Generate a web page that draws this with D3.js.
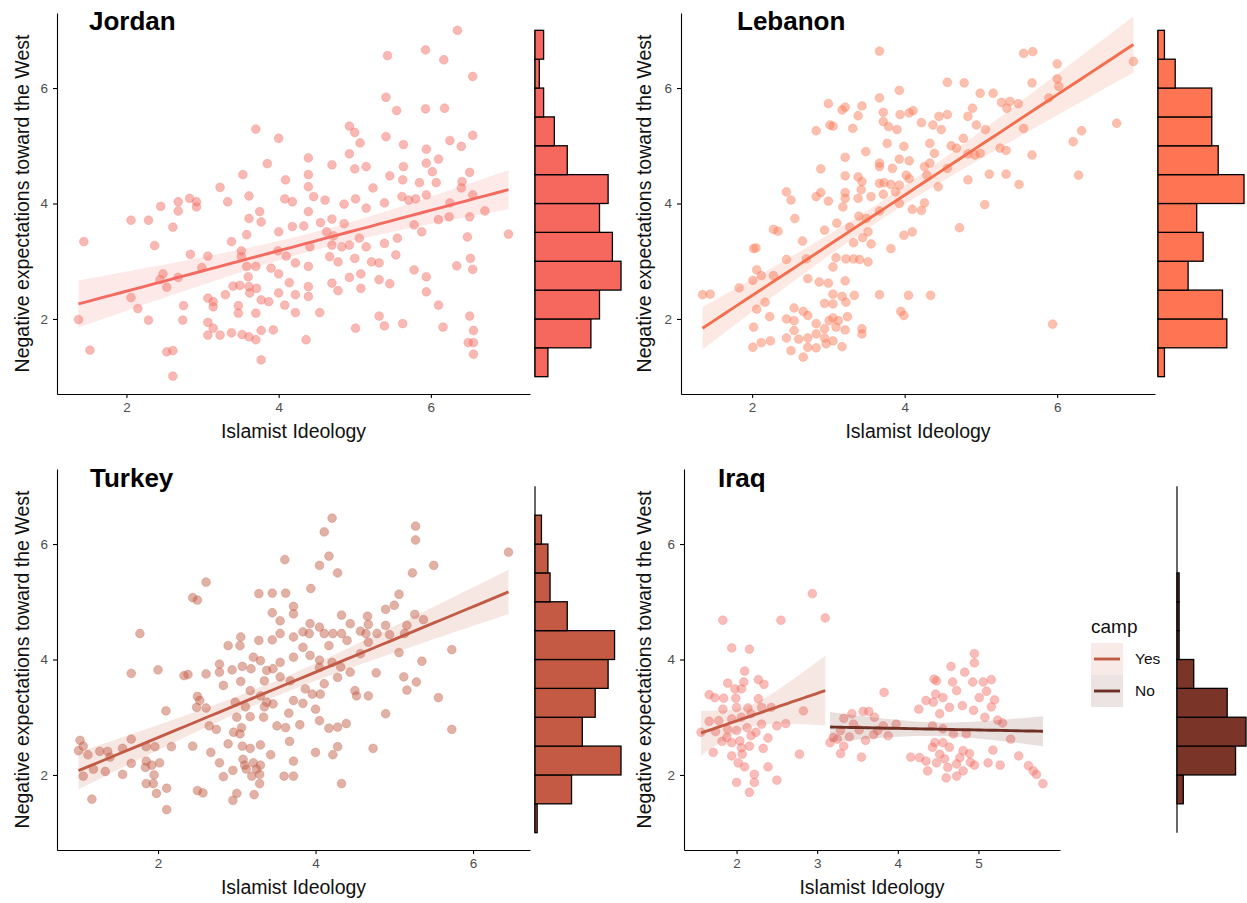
<!DOCTYPE html>
<html>
<head>
<meta charset="utf-8">
<script src="https://cdn.jsdelivr.net/npm/d3@7"></script>
<style>
  body { margin: 0; background: #fff; }
  svg { font-family: "Liberation Sans", Arial, sans-serif; }
  .axis path, .axis line { stroke: #000; stroke-width: 1.1; }
</style>
</head>
<body>
<script>
(function(){

//data: [Islamist Ideology, Negative expectations]
var jordanPts = [[3.70,5.29],[4.00,5.13],[3.85,4.69],[3.53,4.50],[4.09,4.41],[3.23,4.28],[3.61,4.13],[3.33,4.03],[4.08,4.08],[4.18,4.03],[2.68,4.03],[2.83,4.09],[2.92,4.03],[2.45,3.95],[2.68,3.87],[2.92,3.94],[3.75,3.86],[2.06,3.71],[2.29,3.71],[3.61,3.74],[3.77,3.68],[2.61,3.59],[4.18,3.60],[4.00,3.51],[3.58,3.46],[1.44,3.34],[2.37,3.27],[3.38,3.34],[3.51,3.18],[2.84,3.12],[3.07,3.09],[3.51,3.08],[3.99,3.18],[4.10,3.09],[4.22,2.97],[2.99,2.89],[3.58,2.91],[3.70,2.91],[3.90,2.88],[4.00,2.78],[2.48,2.78],[2.68,2.72],[2.44,2.68],[2.53,2.55],[3.60,2.73],[3.61,2.56],[3.71,2.53],[3.40,2.57],[3.49,2.58],[3.30,2.42],[3.62,2.45],[3.77,2.33],[3.87,2.30],[4.00,2.45],[4.14,2.63],[4.22,2.42],[4.08,2.24],[4.22,2.11],[2.06,2.37],[2.15,2.18],[3.07,2.36],[3.14,2.30],[3.14,2.21],[2.75,2.23],[3.47,2.23],[3.47,2.10],[3.70,2.10],[1.37,1.99],[2.29,1.98],[2.74,1.98],[3.07,1.94],[3.14,1.84],[3.07,1.72],[3.23,1.72],[3.38,1.76],[3.52,1.73],[3.61,1.69],[3.70,1.64],[3.77,1.80],[3.93,1.81],[1.52,1.46],[2.53,1.43],[2.61,1.45],[3.77,1.29],[2.61,1.01],
  [6.35,7.00],[5.43,6.56],[5.93,6.66],[6.17,6.49],[6.55,6.20],[5.41,5.84],[5.55,5.61],[5.93,5.64],[6.18,5.65],[4.93,5.34],[5.00,5.23],[5.07,5.05],[5.41,5.16],[5.64,5.02],[5.94,4.94],[6.25,5.09],[6.40,4.99],[6.55,5.18],[4.93,4.86],[4.39,4.79],[4.70,4.67],[5.00,4.60],[5.15,4.64],[5.64,4.64],[5.94,4.70],[6.10,4.77],[6.02,4.55],[4.39,4.50],[5.46,4.48],[5.63,4.41],[5.85,4.36],[6.07,4.36],[6.41,4.38],[6.51,4.54],[4.39,4.29],[4.46,4.12],[4.61,4.06],[5.24,4.27],[5.62,4.12],[5.71,4.06],[5.80,4.08],[5.94,4.15],[6.40,4.27],[6.55,4.15],[5.01,4.08],[4.86,3.99],[5.15,3.92],[5.39,4.01],[6.25,4.01],[6.71,3.87],[4.39,3.86],[4.33,3.61],[4.55,3.67],[4.70,3.73],[4.86,3.65],[4.63,3.51],[4.72,3.44],[5.06,3.40],[5.78,3.63],[5.88,3.51],[6.10,3.72],[6.24,3.77],[6.51,3.77],[7.02,3.47],[4.41,3.25],[4.70,3.28],[4.83,3.25],[4.93,3.28],[5.15,3.25],[5.39,3.31],[5.56,3.40],[5.54,3.11],[6.48,3.42],[4.67,3.08],[4.78,2.99],[5.00,3.05],[5.22,2.99],[5.32,2.97],[4.39,2.91],[6.52,3.05],[6.55,2.86],[6.34,2.92],[5.78,2.85],[5.94,2.73],[4.70,2.62],[4.78,2.49],[4.93,2.72],[5.08,2.78],[5.32,2.68],[5.46,2.61],[5.08,2.53],[5.94,2.47],[4.39,2.39],[4.39,2.56],[6.10,2.24],[4.54,2.11],[5.32,2.05],[6.51,2.05],[5.01,1.84],[5.39,1.88],[5.63,1.92],[6.16,1.86],[6.56,1.80],[6.49,1.59],[6.56,1.59],[6.56,1.39],[4.36,1.64]];

var lebanonPts = [[3.67,6.64],[3.93,5.96],[3.67,5.83],[3.00,5.73],[3.18,5.62],[3.22,5.67],[3.44,5.69],[3.39,5.52],[3.72,5.58],[3.94,5.54],[4.06,5.57],[4.11,5.61],[2.84,5.26],[3.02,5.36],[3.06,5.34],[3.32,5.30],[3.72,5.42],[3.79,5.33],[3.90,5.28],[3.77,5.04],[3.99,4.99],[3.49,4.90],[3.22,4.80],[3.67,4.70],[3.67,4.64],[3.93,4.77],[4.06,4.74],[2.90,4.60],[3.22,4.48],[3.39,4.46],[3.44,4.38],[3.84,4.61],[4.02,4.49],[4.06,4.43],[3.67,4.35],[3.73,4.36],[3.82,4.33],[3.93,4.32],[2.45,4.20],[2.51,4.06],[2.84,4.12],[2.90,4.19],[3.00,4.04],[3.22,4.19],[3.22,4.09],[3.19,3.94],[3.39,4.09],[3.43,4.24],[3.56,4.12],[3.72,4.16],[3.88,4.20],[3.93,4.00],[4.10,3.90],[2.56,3.74],[2.28,3.55],[2.34,3.52],[2.95,3.54],[3.11,3.66],[3.40,3.78],[3.50,3.74],[3.28,3.59],[3.52,3.51],[3.67,3.87],[2.66,3.35],[3.33,3.32],[3.45,3.41],[3.56,3.30],[3.82,3.22],[3.99,3.45],[4.10,3.51],[2.02,3.22],[2.05,3.23],[2.45,3.03],[2.71,3.04],[3.10,3.06],[3.23,3.04],[3.33,3.04],[3.41,3.03],[3.52,2.99],[3.06,2.90],[2.06,2.85],[2.12,2.75],[2.01,2.67],[2.28,2.75],[2.73,2.70],[2.88,2.64],[3.00,2.62],[3.22,2.66],[1.83,2.54],[1.35,2.42],[1.45,2.43],[3.06,2.43],[3.18,2.39],[3.34,2.41],[3.67,2.42],[4.05,2.41],[2.95,2.27],[3.06,2.26],[3.23,2.29],[2.17,2.29],[2.06,2.17],[2.23,2.04],[2.45,2.00],[2.55,2.19],[2.55,1.97],[2.67,2.13],[2.73,2.06],[2.84,1.92],[3.01,1.97],[3.06,2.02],[3.13,1.97],[3.25,2.04],[3.10,1.86],[3.22,1.81],[2.95,1.83],[3.95,2.13],[3.99,2.06],[3.44,1.83],[3.44,1.74],[2.02,1.86],[2.55,1.80],[2.73,1.67],[2.84,1.74],[2.95,1.67],[3.06,1.62],[2.01,1.51],[2.12,1.59],[2.24,1.62],[2.45,1.67],[2.61,1.65],[2.51,1.45],[2.67,1.34],[2.73,1.51],[2.84,1.50],[3.18,1.52],[2.97,1.57],
  [5.56,6.60],[5.68,6.63],[6.00,6.42],[7.00,6.46],[4.56,6.10],[4.78,6.09],[5.67,6.09],[6.00,6.16],[6.02,6.03],[4.99,5.91],[5.16,5.91],[5.27,5.75],[5.38,5.77],[5.34,5.65],[5.49,5.73],[5.89,5.83],[4.89,5.65],[4.56,5.54],[4.45,5.51],[4.37,5.36],[4.83,5.51],[4.94,5.36],[5.06,5.28],[5.56,5.30],[6.78,5.39],[6.32,5.26],[6.21,5.07],[4.48,5.28],[4.22,5.40],[4.33,5.04],[4.39,4.87],[4.77,5.13],[4.61,5.00],[4.68,4.96],[5.25,4.96],[5.33,4.92],[5.67,4.84],[4.83,4.86],[4.92,4.84],[4.99,4.87],[4.33,4.70],[4.26,4.64],[4.56,4.61],[4.83,4.41],[5.11,4.51],[5.33,4.51],[5.50,4.33],[6.28,4.49],[4.44,4.29],[4.29,4.49],[4.26,4.01],[5.05,3.98],[4.22,3.88],[4.72,3.58],[4.34,2.41],[5.94,1.91]];

var turkeyPts = [[3.61,5.73],[2.61,5.34],[2.44,5.07],[2.50,5.03],[3.28,5.14],[3.45,5.15],[3.62,5.15],[3.72,4.92],[3.45,4.81],[3.55,4.67],[3.72,4.79],[1.77,4.45],[3.55,4.45],[3.05,4.39],[3.28,4.33],[3.45,4.34],[3.72,4.39],[2.89,4.24],[3.04,4.24],[3.21,4.04],[3.30,3.98],[3.55,3.95],[3.72,4.04],[2.78,3.92],[2.94,3.82],[3.07,3.88],[3.18,3.84],[3.38,3.81],[3.46,3.84],[1.66,3.76],[2.00,3.82],[2.33,3.72],[2.38,3.74],[2.61,3.75],[2.78,3.78],[2.83,3.55],[3.05,3.62],[3.35,3.63],[3.55,3.70],[3.68,3.63],[3.17,3.46],[3.30,3.37],[3.38,3.26],[3.46,3.23],[2.50,3.36],[2.53,3.29],[2.49,3.17],[2.61,3.16],[2.98,3.26],[3.11,3.18],[3.35,3.18],[2.10,3.11],[3.72,3.29],[3.00,3.00],[3.17,3.01],[3.34,3.00],[3.66,3.07],[2.65,2.85],[2.74,2.79],[3.06,2.82],[3.51,2.85],[3.62,2.82],[3.04,2.71],[2.96,2.74],[3.67,2.58],[1.66,2.62],[1.01,2.60],[1.05,2.50],[0.99,2.42],[1.11,2.35],[1.26,2.41],[1.36,2.41],[1.39,2.31],[1.55,2.46],[1.85,2.49],[1.96,2.49],[2.17,2.49],[2.44,2.50],[2.89,2.54],[3.07,2.50],[3.17,2.46],[3.30,2.52],[3.43,2.35],[2.67,2.39],[2.78,2.21],[1.66,2.20],[1.85,2.24],[1.92,2.17],[2.02,2.21],[1.84,2.13],[1.33,2.06],[1.18,2.10],[1.05,1.98],[1.55,2.01],[1.95,2.00],[2.95,2.08],[3.08,2.27],[3.10,2.17],[3.21,2.21],[3.30,2.17],[3.12,2.10],[3.25,2.10],[3.19,1.98],[3.29,2.01],[2.83,1.97],[3.60,1.98],[3.72,1.98],[3.72,2.24],[1.85,1.85],[1.94,1.85],[3.29,1.85],[2.11,1.77],[1.98,1.68],[2.50,1.73],[2.57,1.69],[3.00,1.68],[2.95,1.56],[3.22,1.66],[1.16,1.58],[2.11,1.40],
  [4.21,6.45],[4.11,6.21],[5.27,6.31],[5.27,6.07],[6.45,5.86],[4.17,5.79],[4.05,5.63],[4.28,5.50],[5.23,5.50],[5.50,5.63],[3.94,5.23],[5.06,5.13],[5.00,4.94],[4.89,4.87],[4.33,4.77],[4.44,4.62],[4.66,4.75],[4.67,4.61],[5.26,4.78],[5.37,4.69],[5.16,4.59],[4.89,4.59],[3.93,4.62],[4.05,4.56],[3.84,4.48],[3.92,4.45],[4.11,4.45],[4.22,4.45],[4.33,4.45],[4.57,4.49],[4.64,4.45],[4.78,4.45],[4.94,4.43],[5.13,4.45],[4.40,4.33],[4.67,4.30],[3.84,4.21],[4.17,4.24],[5.73,4.17],[5.06,4.12],[4.57,4.10],[3.93,4.07],[4.05,3.99],[4.21,3.95],[5.35,3.97],[4.05,3.86],[4.32,3.87],[4.44,3.78],[4.28,3.69],[4.77,3.77],[5.12,3.70],[5.28,3.61],[5.16,3.47],[4.11,3.58],[3.87,3.49],[3.96,3.40],[4.06,3.40],[4.50,3.46],[4.52,3.37],[4.67,3.37],[5.56,3.34],[3.84,3.24],[4.00,3.14],[4.89,3.06],[3.80,2.87],[4.05,2.94],[4.17,2.81],[4.28,2.83],[4.39,2.89],[5.73,2.79],[4.00,2.39],[4.22,2.35],[4.28,2.49],[4.73,2.46],[4.33,1.85]];

var iraqYesPts = [[2.94,5.14],[1.83,4.68],[2.55,4.68],[3.10,4.72],[1.94,4.20],[2.16,4.18],[2.10,3.80],[2.27,3.65],[1.89,3.59],[2.09,3.61],[2.34,3.57],[1.98,3.49],[2.06,3.49],[1.66,3.39],[1.73,3.34],[1.84,3.33],[1.99,3.33],[2.27,3.32],[2.00,3.17],[1.83,3.14],[2.14,3.16],[2.31,3.17],[2.43,3.17],[2.83,3.11],[1.66,2.93],[1.78,2.94],[1.94,2.97],[2.06,3.00],[2.18,3.06],[2.31,2.88],[2.50,2.85],[2.61,2.89],[1.56,2.74],[1.74,2.75],[1.89,2.79],[2.00,2.77],[2.13,2.82],[2.24,2.74],[1.82,2.58],[1.94,2.56],[2.04,2.59],[2.16,2.50],[2.39,2.64],[1.71,2.39],[1.94,2.33],[2.07,2.36],[2.33,2.46],[2.78,2.36],[2.02,2.21],[2.10,2.14],[2.39,2.14],[2.22,2.01],[2.00,1.87],[2.22,1.87],[2.50,1.91],[2.16,1.70],[2.06,2.47],[1.88,2.65],[2.18,2.68]];

var iraqNoPts = [[3.83,3.43],[3.33,2.98],[3.43,3.06],[3.45,2.88],[3.57,3.10],[3.64,3.10],[3.71,3.00],[3.82,2.85],[3.88,2.68],[3.98,2.88],[3.20,2.65],[3.29,2.77],[3.16,2.56],[3.29,2.37],[3.33,2.50],[3.55,2.31],[3.75,2.77],[3.40,2.66],[3.60,2.60],[3.52,2.78],[3.70,2.70],[3.25,2.62],[4.26,3.14],[4.35,3.29],[4.16,2.31],[4.27,2.30],[4.37,2.07],[4.35,2.24],[4.45,3.66],[4.47,3.40],[4.43,2.85],[4.43,2.48],
  [4.95,4.10],[4.95,3.94],[4.66,3.88],[4.48,3.63],[4.83,3.78],[4.68,3.61],[4.93,3.61],[5.06,3.61],[5.16,3.65],[4.73,3.46],[5.01,3.34],[5.16,3.18],[4.56,3.34],[4.80,3.20],[4.94,3.12],[5.08,3.00],[5.24,2.95],[4.44,3.26],[4.64,3.17],[4.52,3.06],[4.69,2.71],[4.56,2.56],[4.52,2.36],[4.64,2.48],[4.81,2.42],[4.89,2.37],[5.18,2.43],[4.48,2.21],[4.62,2.13],[4.73,2.19],[4.81,2.07],[4.95,2.17],[5.12,2.21],[5.27,2.17],[5.50,2.33],[5.62,2.16],[5.68,2.07],[5.72,2.01],[5.80,1.85],[4.60,1.95],[4.73,1.98],[4.56,2.80],[4.46,2.56],[4.85,2.71],[5.20,3.30],[5.30,2.90],[5.40,2.62],[5.10,3.45],[4.58,2.28],[4.77,2.30],[4.90,2.22]];

//marginal histogram counts, one per half-unit bin of the y variable
var histBreaks = [1, 1.5, 2, 2.5, 3, 3.5, 4, 4.5, 5, 5.5, 6, 6.5, 7];
var jordanCounts = [6, 26, 30, 40, 36, 30, 34, 15, 9, 4, 2, 4];
var lebanonCounts = [3, 32, 30, 14, 21, 18, 40, 28, 25, 25, 8, 3];
var turkeyCounts = [1, 17, 40, 22, 28, 34, 37, 15, 7, 6, 3, 0];
var iraqCounts = [0, 3, 28, 33, 24, 8, 1, 1, 1, 0, 0, 0];

//axis ticks and labels
var yTicks = [2, 4, 6];
var yLimits = [1, 7];
var xTicksWide = [2, 4, 6];
var xTicksIraq = [2, 3, 4, 5];
var campLabels = ["Yes", "No"];
var xTitle = "Islamist Ideology";
var yTitle = "Negative expectations toward the West";

//panel layout
var panels = [
    {title: "Jordan", titleX: 89, titleY: 30, left: 57, right: 530, top: 13, bottom: 394, yTitleX: 22,
     histLeft: 535, histW: 86, counts: jordanCounts, barColor: "#F6685E",
     xTicks: xTicksWide, groups: [{pts: jordanPts, point: "#F26A60", line: "#F26A60"}]},
    {title: "Lebanon", titleX: 737, titleY: 30, left: 681, right: 1155, top: 13, bottom: 394, yTitleX: 644,
     histLeft: 1158, histW: 86, counts: lebanonCounts, barColor: "#FF7553",
     xTicks: xTicksWide, groups: [{pts: lebanonPts, point: "#FA7B57", line: "#F36E4D"}]},
    {title: "Turkey", titleX: 90, titleY: 487, left: 57, right: 530, top: 469, bottom: 850, yTitleX: 22,
     histLeft: 535, histW: 86, counts: turkeyCounts, barColor: "#C45A44",
     xTicks: xTicksWide, groups: [{pts: turkeyPts, point: "#C25B45", line: "#C25B45"}]},
    {title: "Iraq", titleX: 718, titleY: 487, left: 684, right: 1060, top: 469, bottom: 850, yTitleX: 644,
     histLeft: 1177, histW: 69, counts: iraqCounts, barColor: "#7A3428",
     xTicks: xTicksIraq, groups: [{pts: iraqYesPts, point: "#F2736B", line: "#C25B45"},
                                  {pts: iraqNoPts, point: "#F2736B", line: "#6E3024"}]}
];

var svg = d3.select("body").append("svg")
    .attr("width", 1247)
    .attr("height", 903);

svg.append("rect").attr("width", 1247).attr("height", 903).attr("fill", "#fff");

panels.forEach(function(p){ drawPanel(p); });
drawLegend();

//least squares fit with 95% confidence band
function fitLine(pts){
    var n = pts.length;
    var xbar = d3.mean(pts, function(d){ return d[0]; });
    var ybar = d3.mean(pts, function(d){ return d[1]; });
    var sxx = d3.sum(pts, function(d){ return (d[0] - xbar) * (d[0] - xbar); });
    var sxy = d3.sum(pts, function(d){ return (d[0] - xbar) * (d[1] - ybar); });
    var b = sxy / sxx, a = ybar - b * xbar;
    var sse = d3.sum(pts, function(d){ var r = d[1] - (a + b * d[0]); return r * r; });
    var s = Math.sqrt(sse / (n - 2));
    var ext = d3.extent(pts, function(d){ return d[0]; });
    var xs = d3.range(0, 41).map(function(i){ return ext[0] + (ext[1] - ext[0]) * i / 40; });
    return xs.map(function(xv){
        var fit = a + b * xv;
        var se = s * Math.sqrt(1 / n + (xv - xbar) * (xv - xbar) / sxx);
        return {x: xv, y: fit, lo: fit - 1.97 * se, hi: fit + 1.97 * se};
    });
}

function drawPanel(p){
    var all = [];
    p.groups.forEach(function(g){ all = all.concat(g.pts); });

    //ggplot style 5% expansion
    var xExt = d3.extent(all, function(d){ return d[0]; });
    var xPad = (xExt[1] - xExt[0]) * 0.05;
    var yPad = (yLimits[1] - yLimits[0]) * 0.05;

    var x = d3.scaleLinear().domain([xExt[0] - xPad, xExt[1] + xPad]).range([p.left, p.right]);
    var y = d3.scaleLinear().domain([yLimits[0] - yPad, yLimits[1] + yPad]).range([p.bottom, p.top]);

    var g = svg.append("g");

    //points
    p.groups.forEach(function(grp){
        g.append("g").selectAll("circle")
            .data(grp.pts)
            .enter()
            .append("circle")
            .attr("cx", function(d){ return x(d[0]); })
            .attr("cy", function(d){ return y(d[1]); })
            .attr("r", 4.4)
            .attr("fill", grp.point)
            .attr("fill-opacity", 0.48)
            .attr("stroke", grp.point)
            .attr("stroke-opacity", 0.3)
            .attr("stroke-width", 0.9);
    });

    //smooth lines with bands
    p.groups.forEach(function(grp){
        var fit = fitLine(grp.pts);
        var band = d3.area()
            .x(function(d){ return x(d.x); })
            .y0(function(d){ return y(d.lo); })
            .y1(function(d){ return y(d.hi); });
        var line = d3.line()
            .x(function(d){ return x(d.x); })
            .y(function(d){ return y(d.y); });
        g.append("path").attr("d", band(fit))
            .attr("fill", grp.line).attr("fill-opacity", 0.15);
        g.append("path").attr("d", line(fit))
            .attr("fill", "none").attr("stroke", grp.line).attr("stroke-width", 2.9);
    });

    //axes
    var xAxis = g.append("g")
        .attr("class", "axis")
        .attr("transform", "translate(0," + p.bottom + ")")
        .call(d3.axisBottom(x).tickValues(p.xTicks).tickFormat(d3.format("d"))
            .tickSize(4).tickPadding(4).tickSizeOuter(0));
    var yAxis = g.append("g")
        .attr("class", "axis")
        .attr("transform", "translate(" + p.left + ",0)")
        .call(d3.axisLeft(y).tickValues(yTicks).tickFormat(d3.format("d"))
            .tickSize(4).tickPadding(5).tickSizeOuter(0));
    [xAxis, yAxis].forEach(function(ax){
        ax.selectAll(".tick line").attr("stroke", "#333");
        ax.selectAll("text")
            .style("font-size", "13.5px")
            .style("font-family", "'Liberation Sans', Arial, sans-serif")
            .attr("fill", "#4d4d4d");
    });

    //axis titles
    g.append("text")
        .attr("x", (p.left + p.right) / 2)
        .attr("y", p.bottom + 44)
        .attr("text-anchor", "middle")
        .attr("font-size", 19.5)
        .attr("fill", "#111")
        .text(xTitle);
    g.append("text")
        .attr("transform", "translate(" + p.yTitleX + "," + ((p.top + p.bottom) / 2) + ") rotate(-90)")
        .attr("text-anchor", "middle")
        .attr("dy", "0.35em")
        .attr("font-size", 19.5)
        .attr("fill", "#111")
        .text(yTitle);

    //panel title
    g.append("text")
        .attr("x", p.titleX)
        .attr("y", p.titleY)
        .attr("font-size", 26)
        .attr("font-weight", "bold")
        .attr("fill", "#000")
        .text(p.title);

    //marginal histogram
    var hx = d3.scaleLinear().domain([0, d3.max(p.counts)]).range([0, p.histW]);
    var bins = p.counts.map(function(c, i){ return {lo: histBreaks[i], hi: histBreaks[i + 1], n: c}; })
        .filter(function(d){ return d.n > 0; });

    g.append("line")
        .attr("x1", p.histLeft).attr("x2", p.histLeft)
        .attr("y1", y(yLimits[1])).attr("y2", y(yLimits[0]))
        .attr("stroke", "#000").attr("stroke-width", 1.2);

    g.append("g").selectAll("rect")
        .data(bins)
        .enter()
        .append("rect")
        .attr("x", p.histLeft)
        .attr("y", function(d){ return y(d.hi); })
        .attr("width", function(d){ return hx(d.n); })
        .attr("height", function(d){ return y(d.lo) - y(d.hi); })
        .attr("fill", p.barColor)
        .attr("stroke", "#000")
        .attr("stroke-width", 1.3);
}

//legend for the Iraq camp lines
function drawLegend(){
    var colors = [panels[3].groups[0].line, panels[3].groups[1].line];
    var lg = svg.append("g").attr("transform", "translate(1091,0)");
    lg.append("text")
        .attr("x", 0).attr("y", 633)
        .attr("font-size", 19)
        .attr("fill", "#111")
        .text("camp");
    var keys = lg.selectAll(".key")
        .data(campLabels)
        .enter()
        .append("g")
        .attr("class", "key")
        .attr("transform", function(d, i){ return "translate(0," + (643 + i * 32) + ")"; });
    keys.append("rect")
        .attr("width", 32).attr("height", 32)
        .attr("fill", function(d, i){ return colors[i]; })
        .attr("fill-opacity", 0.13);
    keys.append("line")
        .attr("x1", 3).attr("x2", 29)
        .attr("y1", 16).attr("y2", 16)
        .attr("stroke", function(d, i){ return colors[i]; })
        .attr("stroke-width", 2.9);
    keys.append("text")
        .attr("x", 44).attr("y", 16)
        .attr("dy", "0.35em")
        .attr("font-size", 15.5)
        .attr("fill", "#111")
        .text(function(d){ return d; });
}

})();
</script>
</body>
</html>
